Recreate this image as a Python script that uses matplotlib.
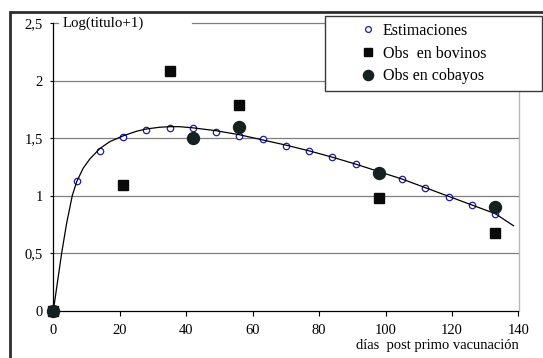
import matplotlib
matplotlib.use("Agg")
import matplotlib.pyplot as plt
from matplotlib.lines import Line2D
from matplotlib.patches import Rectangle

plt.rcParams['font.family'] = ['Liberation Serif', 'DejaVu Serif']

# ---- data ----
est_days = [0, 7, 14, 21, 28, 35, 42, 49, 56, 63, 70, 77, 84, 91, 98, 105, 112, 119, 126, 133]
est_vals = [0.0, 1.13, 1.39, 1.51, 1.57, 1.59, 1.585, 1.555, 1.52, 1.49, 1.435, 1.39, 1.335,
            1.275, 1.21, 1.145, 1.065, 0.99, 0.92, 0.84]

curve_days = [0, 1, 2.5, 4, 5.7, 7, 9, 11, 14, 17, 21, 25, 28, 32, 35, 38, 42, 49, 56, 63, 70,
              77, 84, 91, 98, 105, 112, 119, 126, 133, 138.5]
curve_vals = [0.0, 0.2, 0.5, 0.76, 1.0, 1.12, 1.24, 1.32, 1.41, 1.47, 1.52, 1.56, 1.58, 1.595,
              1.6, 1.6, 1.59, 1.565, 1.53, 1.485, 1.44, 1.39, 1.335, 1.275, 1.21, 1.145,
              1.07, 0.995, 0.92, 0.845, 0.74]

bov_days = [0, 21, 35, 56, 98, 133]
bov_vals = [0.0, 1.09, 2.08, 1.79, 0.98, 0.68]

cob_days = [0, 42, 56, 98, 133]
cob_vals = [0.0, 1.5, 1.6, 1.2, 0.9]

y_ticks = [0, 0.5, 1, 1.5, 2, 2.5]
y_tick_labels = ['0', '0,5', '1', '1,5', '2', '2,5']
x_ticks = [0, 20, 40, 60, 80, 100, 120, 140]
x_tick_labels = ['0', '20', '40', '60', '80', '100', '120', '140']

labels = ['Estimaciones', 'Obs  en bovinos', 'Obs en cobayos']

# ---- figure ----
W, H = 543, 358
fig = plt.figure(figsize=(W / 100, H / 100), dpi=100)
fig.patch.set_facecolor('white')

# outer frame (partially cropped at right/bottom)
fig.patches.append(Rectangle((9.5 / W, -0.2), 1.2, (H - 11.5) / H + 0.2,
                             transform=fig.transFigure, fill=False,
                             edgecolor='#2e2e2e', linewidth=2.0, zorder=0))

ax = fig.add_axes([53.3 / W, 47 / H, 465.2 / W, 288 / H])
ax.set_xlim(0, 140)
ax.set_ylim(0, 2.5)

grid_c = '#7f7f7f'
for yv in y_ticks[1:-1]:
    ax.axhline(yv, color=grid_c, lw=0.9, zorder=1)
ax.axhline(2.5, xmin=0.0, xmax=0.011, color=grid_c, lw=0.9, zorder=1, clip_on=False)
ax.axhline(2.5, xmin=0.298, xmax=1.0, color=grid_c, lw=0.9, zorder=1, clip_on=False)

ax.spines['top'].set_visible(False)
ax.spines['right'].set_color('#b8b8b8')
ax.spines['right'].set_linewidth(1.0)
ax.spines['left'].set_color('black')
ax.spines['bottom'].set_color('black')
ax.spines['left'].set_linewidth(0.9)
ax.spines['bottom'].set_linewidth(0.9)

ax.set_yticks(y_ticks)
ax.set_yticklabels(y_tick_labels)
ax.set_xticks(x_ticks)
ax.set_xticklabels(x_tick_labels)
ax.tick_params(axis='y', direction='out', length=2.4, width=0.8, pad=5, labelsize=10.5,
               colors='black')
ax.tick_params(axis='x', direction='out', length=3.6, width=0.8, pad=6, labelsize=10.5,
               colors='black')

# data
ax.plot(est_days, est_vals, linestyle='none', marker='o', markersize=4.6,
        markerfacecolor='white', markeredgecolor='#1c1ca8', markeredgewidth=0.9,
        zorder=3, clip_on=False)
ax.plot(curve_days, curve_vals, color='black', lw=0.9, zorder=4, clip_on=False)
ax.plot(bov_days, bov_vals, linestyle='none', marker='s', markersize=6.5,
        color='#0a0a0a', zorder=5, clip_on=False)
ax.plot(cob_days, cob_vals, linestyle='none', marker='o', markersize=8.6,
        color='#132220', zorder=6, clip_on=False)

# axis texts
ax.text(0.021, 1.0, 'Log(titulo+1)', transform=ax.transAxes, ha='left', va='center',
        fontsize=10.7)
ax.text(1.0, -0.12, 'días  post primo vacunación', transform=ax.transAxes,
        ha='right', va='center', fontsize=10.5)

# legend
handles = [
    Line2D([], [], linestyle='none', marker='o', markersize=4.2, markerfacecolor='white',
           markeredgecolor='#1c1ca8', markeredgewidth=0.9),
    Line2D([], [], linestyle='none', marker='s', markersize=6.0, color='#0a0a0a'),
    Line2D([], [], linestyle='none', marker='o', markersize=7.3, color='#132220'),
]
leg = ax.legend(handles, labels, loc='upper left',
                bbox_to_anchor=(0.584, 1.024, 0.466, 0.0), mode='expand',
                borderaxespad=0, borderpad=0.42, labelspacing=0.42,
                handlelength=4.6, handletextpad=-1.4, fontsize=11.5,
                frameon=True, fancybox=False, framealpha=1.0)
leg.get_frame().set_edgecolor('#3a3a3a')
leg.get_frame().set_linewidth(1.0)
leg.set_zorder(10)

fig.savefig('out.png', dpi=100, facecolor='white')
